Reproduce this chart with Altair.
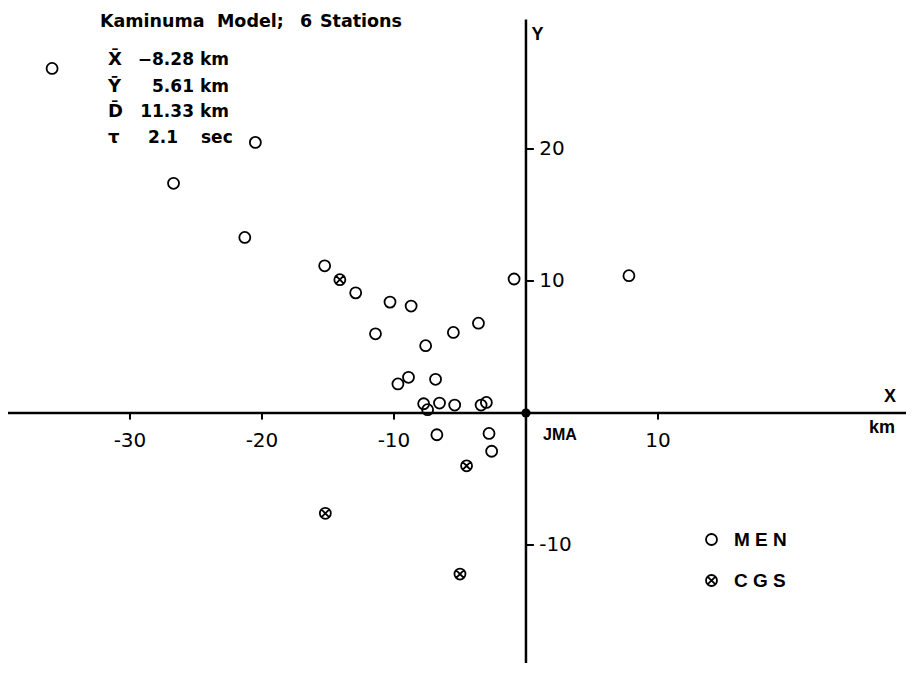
import altair as alt
import pandas as pd

# ---- data (km, relative to JMA) ----
men_x = [-35.9, -20.5, -26.7, -21.3, -15.25, -12.9, -10.3, -8.7, -11.4, -7.6, -5.5, -3.6,
         -0.9, 7.8, -9.7, -8.9, -6.85, -7.75, -7.45, -6.55, -5.4, -3.4, -3.0, -6.75, -2.8, -2.6]
men_y = [26.1, 20.5, 17.4, 13.3, 11.15, 9.1, 8.4, 8.1, 6.0, 5.1, 6.1, 6.8,
         10.15, 10.4, 2.2, 2.7, 2.55, 0.7, 0.25, 0.75, 0.6, 0.6, 0.8, -1.65, -1.55, -2.9]
cgs_x = [-14.1, -4.5, -15.2, -5.0]
cgs_y = [10.1, -4.0, -7.6, -12.2]

x_ticks = [-30, -20, -10, 10]
x_tick_labels = ["-30", "-20", "-10", "10"]
y_ticks = [20, 10, -10]
y_tick_labels = ["20", "10", "-10"]

title_words = ["Kaminuma", "Model;", "6", "Stations"]
title_x = [-32.27, -23.41, -17.12, -15.61]
title_y = 29.24

stat_symbols = ["X\u0304", "Y\u0304", "D\u0304", "\u03c4"]
stat_values = ["\u22128.28", "5.61", "11.33", "2.1"]
stat_units = ["km", "km", "km", "sec"]
stat_y = [26.36, 24.32, 22.42, 20.45]
stat_sym_x = [-31.67, -31.67, -31.67, -31.67]
stat_val_right_x = [-25.15, -25.15, -25.15, -26.36]
stat_unit_x = [-24.70, -24.70, -24.70, -24.62]

axis_labels = ["X", "km", "Y", "JMA"]
axis_label_x = [27.58, 26.97, 0.87, 1.29]
axis_label_y = [1.21, -1.14, 28.64, -1.67]
axis_label_align = ["center", "center", "center", "left"]

XMIN, XMAX = -39.24, 28.79
YMIN, YMAX = -18.94, 30.68
Y_AXIS_TOP = 29.8

FONT = "Liberation Sans"
WIDE = "DejaVu Sans"
xs = alt.Scale(domain=[XMIN, XMAX], nice=False, zero=False)
ys = alt.Scale(domain=[YMIN, YMAX], nice=False, zero=False)

def X(f):
    return alt.X(f, type="quantitative", scale=xs, axis=None)

def Y(f):
    return alt.Y(f, type="quantitative", scale=ys, axis=None)

# axes lines
axes_df = pd.DataFrame({"x": [XMIN, 0], "x2": [XMAX, 0], "y": [0, YMIN], "y2": [0, Y_AXIS_TOP]})
axes = alt.Chart(axes_df).mark_rule(color="black", strokeWidth=2.5).encode(
    x=X("x"), x2="x2", y=Y("y"), y2="y2")

tick_df = pd.DataFrame({
    "x": x_ticks + [0] * len(y_ticks),
    "x2": x_ticks + [0.6] * len(y_ticks),
    "y": [0] * len(x_ticks) + y_ticks,
    "y2": [-0.5] * len(x_ticks) + y_ticks,
})
ticks = alt.Chart(tick_df).mark_rule(color="black", strokeWidth=2).encode(
    x=X("x"), x2="x2", y=Y("y"), y2="y2")

origin = alt.Chart(pd.DataFrame({"x": [0], "y": [0]})).mark_circle(
    color="black", size=85, opacity=1).encode(x=X("x"), y=Y("y"))

circle_path = "M1,0A1,1 0 1,1 -1,0A1,1 0 1,1 1,0Z"
cgs_path = "M1,0A1,1 0 1,1 -1,0A1,1 0 1,1 1,0ZM-0.72,-0.72L0.72,0.72M-0.72,0.72L0.72,-0.72"

pts_df = pd.DataFrame({
    "x": men_x + cgs_x,
    "y": men_y + cgs_y,
    "type": ["MEN"] * len(men_x) + ["CGS"] * len(cgs_x),
})
points = alt.Chart(pts_df).mark_point(
    filled=False, size=121, strokeWidth=1.8, color="black", opacity=1
).encode(
    x=X("x"), y=Y("y"),
    shape=alt.Shape("type:N",
                    scale=alt.Scale(domain=["MEN", "CGS"], range=[circle_path, cgs_path]),
                    legend=alt.Legend(
                        title=None, orient="none", legendX=694, legendY=522,
                        padding=0, rowPadding=21, labelOffset=13,
                        labelFont=FONT, labelFontSize=19, labelFontWeight="bold",
                        labelColor="black",
                        labelExpr="datum.label == 'MEN' ? 'M E N' : 'C G S'",
                        symbolSize=121, symbolStrokeWidth=1.8, symbolStrokeColor="black",
                        symbolFillColor="transparent")),
)

def text_layer(df, size, weight, align, baseline="alphabetic", font=FONT):
    return alt.Chart(df).mark_text(
        font=font, fontSize=size, fontWeight=weight, align=align, baseline=baseline, color="black"
    ).encode(x=X("x"), y=Y("y"), text="t:N")

title_df = pd.DataFrame({"x": title_x, "y": [title_y] * 4, "t": title_words})
sym_df = pd.DataFrame({"x": stat_sym_x, "y": stat_y, "t": stat_symbols})
val_df = pd.DataFrame({"x": stat_val_right_x, "y": stat_y, "t": stat_values})
unit_df = pd.DataFrame({"x": stat_unit_x, "y": stat_y, "t": stat_units})
xt_df = pd.DataFrame({"x": x_ticks, "y": [-2.12] * len(x_ticks), "t": x_tick_labels})
yt_df = pd.DataFrame({"x": [1.0] * len(y_ticks), "y": y_ticks, "t": y_tick_labels})
al_df = pd.DataFrame({"x": axis_label_x, "y": axis_label_y, "t": axis_labels, "a": axis_label_align})

layers = [
    axes, ticks, origin, points,
    text_layer(title_df, 17.5, "bold", "left", font=WIDE),
    text_layer(sym_df, 18, "bold", "left", font=WIDE),
    text_layer(val_df, 17, "bold", "right", font=WIDE),
    text_layer(unit_df, 17, "bold", "left", font=WIDE),
    text_layer(xt_df, 20, "normal", "center", "middle", font=WIDE),
    text_layer(yt_df, 20, "normal", "left", "middle", font=WIDE),
    text_layer(al_df[al_df.a == "center"], 18, "bold", "center", "middle"),
    text_layer(al_df[al_df.a == "left"], 16, "bold", "left", "middle"),
]

chart = alt.layer(*layers).properties(
    width=898, height=655,
    autosize=alt.AutoSizeParams(type="none"),
    padding=0,
    background="white",
).configure_view(stroke=None)

chart.save("out.html", embed_options={"renderer": "svg", "actions": False})
